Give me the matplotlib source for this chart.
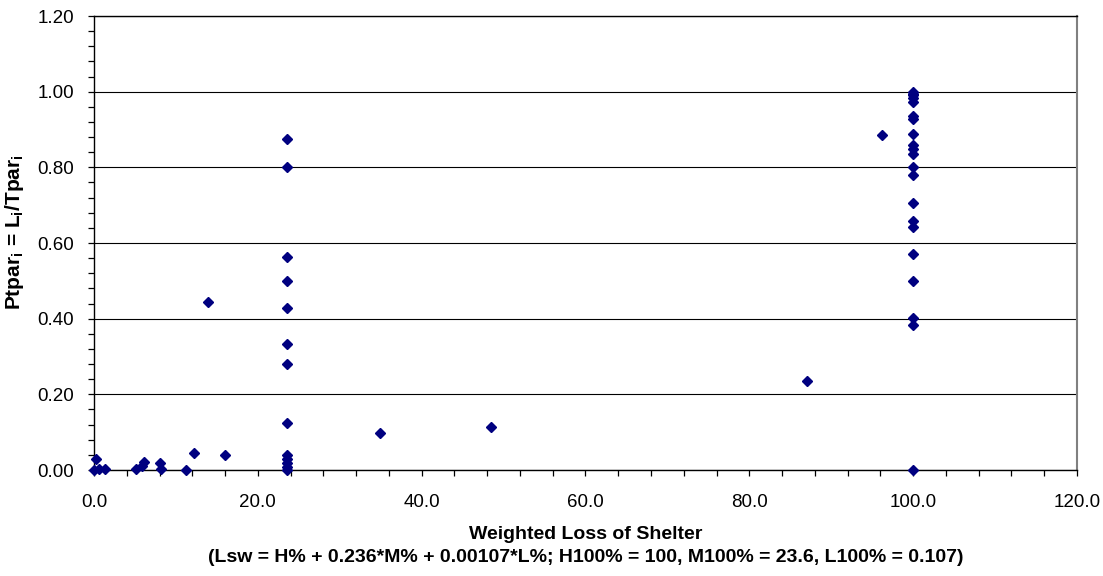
import matplotlib
matplotlib.use('Agg')
import matplotlib.pyplot as plt
from matplotlib.ticker import MultipleLocator, FormatStrFormatter

plt.rcParams['font.family'] = ['Liberation Sans', 'DejaVu Sans']
plt.rcParams['mathtext.fontset'] = 'custom'
plt.rcParams['mathtext.rm'] = 'Liberation Sans'
plt.rcParams['mathtext.bf'] = 'Liberation Sans:bold'

# weighted loss of shelter (x) and Ptpar (y)
loss = [0.0, 0.2, 0.6, 1.3, 5.1, 5.9, 6.1, 8.1, 8.2, 11.2, 12.2, 13.9, 16.0,
        23.6, 23.6, 23.6, 23.6, 23.6, 23.6, 23.6, 23.6, 23.6, 23.6, 23.6, 23.6, 23.6,
        34.9, 48.5, 87.1, 96.2,
        100, 100, 100, 100, 100, 100, 100, 100, 100, 100, 100, 100, 100,
        100, 100, 100, 100, 100, 100, 100, 100]
ptpar = [0.0, 0.028, 0.004, 0.004, 0.004, 0.010, 0.022, 0.018, 0.002, 0.0, 0.044, 0.445, 0.041,
         0.875, 0.800, 0.563, 0.500, 0.429, 0.334, 0.281, 0.125, 0.039, 0.028, 0.018, 0.009, 0.0,
         0.097, 0.114, 0.235, 0.885,
         1.000, 0.991, 0.982, 0.974, 0.937, 0.928, 0.889, 0.859, 0.848, 0.834, 0.802, 0.780, 0.706,
         0.658, 0.643, 0.572, 0.500, 0.403, 0.383, 0.0, 0.995]

fig = plt.figure(figsize=(11.03, 5.76), dpi=100)
ax = fig.add_axes([0.0852, 0.184, 0.8912, 0.7882])

ax.plot(loss, ptpar, linestyle='none', marker='D', markersize=5.2,
        color='#000080', zorder=3, clip_on=False)

ax.set_xlim(0, 120)
ax.set_ylim(0, 1.2)
ax.xaxis.set_major_locator(MultipleLocator(20))
ax.xaxis.set_minor_locator(MultipleLocator(4))
ax.yaxis.set_major_locator(MultipleLocator(0.2))
ax.yaxis.set_minor_locator(MultipleLocator(0.04))
ax.xaxis.set_major_formatter(FormatStrFormatter('%.1f'))
ax.yaxis.set_major_formatter(FormatStrFormatter('%.2f'))

ax.yaxis.grid(True, which='major', color='black', linewidth=0.8)
ax.set_axisbelow(True)

ax.tick_params(which='both', direction='out', length=4, width=0.9, color='black',
               labelsize=13.5)
ax.tick_params(axis='x', pad=13.3)
ax.tick_params(axis='y', pad=10.5)

for side in ['left', 'bottom', 'top']:
    ax.spines[side].set_color('black')
    ax.spines[side].set_linewidth(1.0)
ax.spines['right'].set_color('#808080')
ax.spines['right'].set_linewidth(1.5)

ax.set_xlabel('Weighted Loss of Shelter\n(Lsw = H% + 0.236*M% + 0.00107*L%; '
              'H100% = 100, M100% = 23.6, L100% = 0.107)',
              fontsize=14, fontweight='bold', labelpad=10.5, linespacing=1.48)
ax.set_ylabel(r'Ptpar$_{\mathbf{i}}$ = L$_{\mathbf{i}}$/Tpar$_{\mathbf{i}}$',
              fontsize=15, fontweight='bold')
ax.yaxis.set_label_coords(-0.0695, 0.524, transform=ax.transAxes)

fig.savefig('out.png', dpi=100)
